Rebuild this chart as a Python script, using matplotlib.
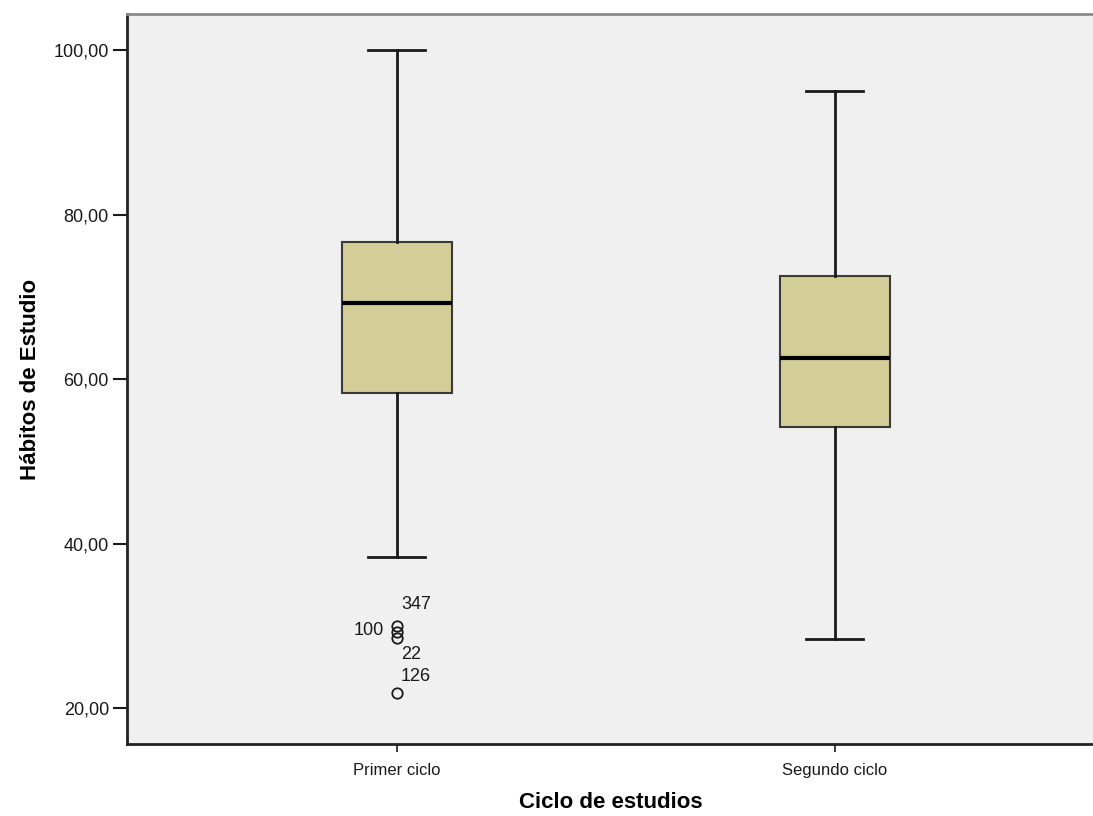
import matplotlib.pyplot as plt

# Study habits score by study cycle
groups = ["Primer ciclo", "Segundo ciclo"]
whisker_low = [38.4, 28.4]
q1 = [58.3, 54.2]
median = [69.2, 62.5]
q3 = [76.7, 72.5]
whisker_high = [100.0, 95.0]

# outliers of the first cycle, with case ids
outlier_vals = [30.0, 29.3, 28.5, 21.8]
outlier_ids = ["347", "100", "22", "126"]
# where each id label sits relative to its point (points)
label_offsets = [(3, 15), (-31, 1), (3, -12), (3, 12)]

plt.rcParams["font.family"] = ["Liberation Sans", "DejaVu Sans"]

fig = plt.figure(figsize=(10.93, 8.16), dpi=100)
ax = fig.add_axes([0.1162, 0.0882, 0.8860, 0.8946])
ax.set_facecolor("#f0f0f0")

stats = []
for i, name in enumerate(groups):
    stats.append({
        "label": name,
        "whislo": whisker_low[i],
        "q1": q1[i],
        "med": median[i],
        "q3": q3[i],
        "whishi": whisker_high[i],
        "fliers": outlier_vals if i == 0 else [],
    })

ax.bxp(
    stats,
    positions=[1, 2],
    widths=0.25,
    patch_artist=True,
    boxprops=dict(facecolor="#d3ce97", edgecolor="#3a3a3a", linewidth=1.5),
    medianprops=dict(color="black", linewidth=3),
    whiskerprops=dict(color="#1a1a1a", linewidth=2),
    capprops=dict(color="#1a1a1a", linewidth=2),
    capwidths=0.13,
    flierprops=dict(marker="o", markerfacecolor="none", markeredgecolor="#1a1a1a",
                    markersize=7.5, markeredgewidth=1.3),
)

for val, txt, off in zip(outlier_vals, outlier_ids, label_offsets):
    ax.annotate(txt, (1, val), xytext=off, textcoords="offset points",
                fontsize=13, va="center", ha="left", color="#1a1a1a")

ax.set_xlim(0.384, 2.595)
ax.set_ylim(15.62, 104.38)
ax.set_yticks([20, 40, 60, 80, 100])
ax.set_yticklabels(["20,00", "40,00", "60,00", "80,00", "100,00"])
ax.set_xticks([1, 2])
ax.set_xticklabels(groups)
ax.tick_params(axis="y", length=10, width=1.5, labelsize=13, colors="#1a1a1a", pad=3)
ax.tick_params(axis="x", length=6, width=1.2, labelsize=12, colors="#1a1a1a", pad=8)

for side in ["left", "bottom"]:
    ax.spines[side].set_color("#222222")
    ax.spines[side].set_linewidth(2)
ax.spines["top"].set_color("#8a8a8a")
ax.spines["top"].set_linewidth(2)
ax.spines["right"].set_visible(False)

ax.set_xlabel("Ciclo de estudios", fontsize=16, fontweight="bold", labelpad=10)
ax.set_ylabel("Hábitos de Estudio", fontsize=16, fontweight="bold", labelpad=9)

fig.savefig("out.png", dpi=100)
